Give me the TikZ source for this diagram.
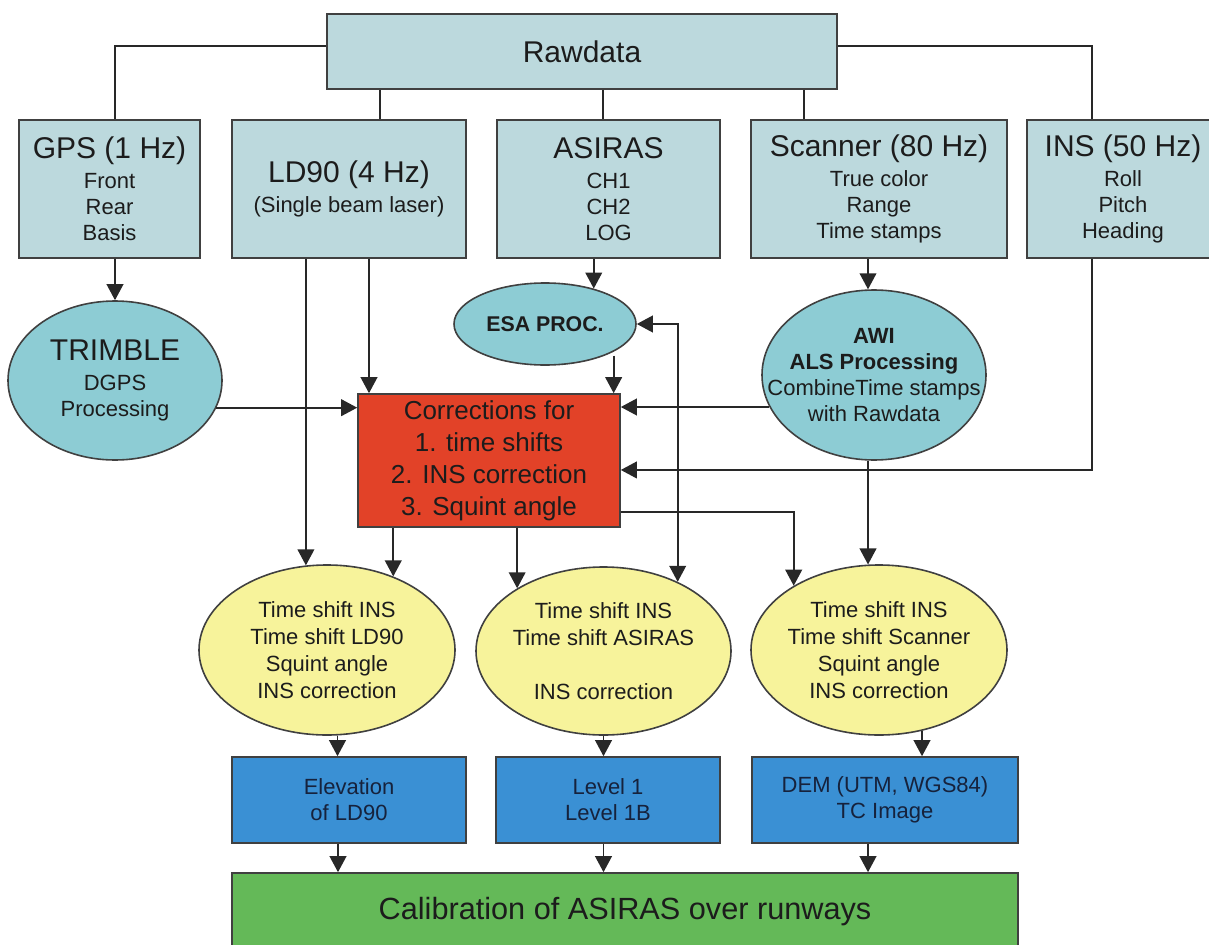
\documentclass[tikz,border=0pt]{standalone}
\usepackage{fontspec}
\setmainfont{Liberation Sans}
\usepackage{tikz}
\usetikzlibrary{shapes}
\usetikzlibrary{arrows.meta}
\definecolor{rawfill}{RGB}{188,217,221}
\definecolor{procfill}{RGB}{141,204,212}
\definecolor{corrfill}{RGB}{226,66,40}
\definecolor{tsfill}{RGB}{247,243,155}
\definecolor{outfill}{RGB}{58,144,212}
\definecolor{calfill}{RGB}{100,185,88}
\definecolor{edgegrey}{RGB}{64,64,64}
\definecolor{linegrey}{RGB}{40,40,40}
\definecolor{txt}{RGB}{28,28,28}
\definecolor{outtxt}{RGB}{22,34,60}
\newcommand{\headfont}{\fontsize{22.5pt}{27pt}\selectfont}
\newcommand{\itemfont}{\fontsize{16.5pt}{19.5pt}\selectfont}

\tikzset{
  srcbox/.style={rectangle, draw=edgegrey, fill=rawfill, line width=1.4pt, align=center, text=txt, font=\itemfont},
  procell/.style={ellipse, draw=edgegrey, fill=procfill, line width=1.2pt, inner sep=-25pt, align=center, text=txt, font=\itemfont},
  corrbox/.style={rectangle, draw=edgegrey, fill=corrfill, line width=1.2pt, align=center, text=txt, font=\fontsize{19.5pt}{24pt}\selectfont},
  tsell/.style={ellipse, draw=edgegrey, fill=tsfill, line width=1.2pt, inner sep=-25pt, align=center, text=txt, font=\fontsize{16.5pt}{20.25pt}\selectfont},
  outbox/.style={rectangle, draw=edgegrey, fill=outfill, line width=1.2pt, align=center, text=outtxt, font=\itemfont},
  calbox/.style={rectangle, draw=edgegrey, fill=calfill, line width=1.2pt, text=txt, font=\fontsize{23pt}{28pt}\selectfont}
}

\begin{document}
\begin{tikzpicture}[->, >={Triangle[length=12pt,width=12.5pt]}, x=0.75pt, y=-0.75pt, linegrey, line width=1.3pt]
        \useasboundingbox (0,0) rectangle (1209,945);

        \node[srcbox, minimum width=382.5pt, minimum height=56.25pt, font=\headfont] (raw) at (582,51.5) {Rawdata};
        \node[srcbox, minimum width=135.75pt, minimum height=103.5pt] (src_gps) at (109.5,189) {{\headfont GPS (1 Hz)}\\[3pt] Front\\ Rear\\ Basis};
        \node[srcbox, minimum width=175.5pt, minimum height=103.5pt] (src_ld) at (349,189) {{\headfont LD90 (4 Hz)}\\[3pt] (Single beam laser)};
        \node[srcbox, minimum width=167.25pt, minimum height=103.5pt] (src_asi) at (608.5,189) {{\headfont ASIRAS}\\[3pt] CH1\\ CH2\\ LOG};
        \node[srcbox, minimum width=192pt, minimum height=103.5pt] (src_scan) at (879,189) {{\headfont Scanner (80 Hz)}\\[3pt] True color\\ Range\\ Time stamps};
        \node[srcbox, minimum width=144pt, minimum height=103.5pt] (src_ins) at (1123,189) {{\headfont INS (50 Hz)}\\[3pt] Roll\\ Pitch\\ Heading};

        \node[procell, minimum width=160.5pt, minimum height=119.25pt] (proc_trim) at (115,380.5) {{\headfont TRIMBLE}\\[3pt] DGPS\\ Processing};
        \node[procell, minimum width=136.5pt, minimum height=61.5pt, font=\fontsize{16pt}{19pt}\selectfont\bfseries] (proc_esa) at (545,324) {ESA PROC.};
        \node[procell, minimum width=168pt, minimum height=127.5pt] (proc_awi) at (874,375) {{\bfseries AWI}\\ {\bfseries ALS Processing}\\ CombineTime stamps\\ with Rawdata};

        \node[corrbox, minimum width=196.5pt, minimum height=99.75pt] (corr) at (489,460.5) {Corrections for\\ 1. time shifts\\ 2. INS correction\\ 3. Squint angle};

        \node[tsell, minimum width=192pt, minimum height=127.5pt] (ts_ld) at (327,650) {Time shift INS\\ Time shift LD90\\ Squint angle\\ INS correction};
        \node[tsell, minimum width=191.25pt, minimum height=126pt] (ts_asi) at (603.5,651) {Time shift INS\\ Time shift ASIRAS\\[20.25pt] INS correction};
        \node[tsell, minimum width=192pt, minimum height=127.5pt] (ts_scan) at (879,650) {Time shift INS\\ Time shift Scanner\\ Squint angle\\ INS correction};

        \node[outbox, minimum width=175.5pt, minimum height=64.5pt] (out_ld) at (349,800) {Elevation\\ of LD90};
        \node[outbox, minimum width=168pt, minimum height=64.5pt] (out_asi) at (608,800) {Level 1\\ Level 1B};
        \node[outbox, minimum width=199.5pt, minimum height=64.5pt] (out_scan) at (885,800) {DEM (UTM, WGS84)\\ TC Image};

        \node[calbox, minimum width=589.5pt, minimum height=58.5pt] (cal) at (625,912) {Calibration of ASIRAS over runways};

        \draw[-] ([yshift=4.1pt]raw.west) -| ([xshift=4.1pt]src_gps.north);
        \draw[-] ([yshift=4.1pt]raw.east) -| ([xshift=-23.25pt]src_ins.north);
        \path ([xshift=23.25pt]src_ld.north |- raw.south) edge[-] ([xshift=23.25pt]src_ld.north)
        ([xshift=-4.1pt]src_asi.north |- raw.south) edge[-] ([xshift=-4.1pt]src_asi.north)
        ([xshift=-56.25pt]src_scan.north |- raw.south) edge[-] ([xshift=-56.25pt]src_scan.north);

        \path ([xshift=4.1pt]src_gps.south) edge (proc_trim.north)
        (ts_ld.104 |- src_ld.south) edge (ts_ld.104)
        ([xshift=15pt]src_ld.south) edge ([xshift=15pt]src_ld.south |- corr.north)
        (proc_esa.36 |- src_asi.south) edge (proc_esa.36)
        ([yshift=-3pt]proc_esa.338) edge (proc_esa.338 |- corr.north)
        (proc_awi.94 |- src_scan.south) edge (proc_awi.94)
        (proc_trim.345) edge (proc_trim.345 -| corr.west)
        (proc_awi.197) edge (proc_awi.197 -| corr.east)
        (ts_ld.48 |- corr.south) edge (ts_ld.48)
        (ts_asi.144 |- corr.south) edge (ts_asi.144)
        (proc_awi.266) edge (proc_awi.266 |- ts_scan.97);

        \draw ([xshift=-23.25pt]src_ins.south) |- ([yshift=-7.1pt]corr.east);
        \draw ([yshift=-38.6pt]corr.east) -| (ts_scan.143);
        \draw[<->] (proc_esa.east) -| (ts_asi.43);

        \path (ts_ld.277) edge (ts_ld.277 |- out_ld.north)
        (ts_asi.south) edge (ts_asi.south |- out_asi.north)
        (ts_scan.298) edge (ts_scan.298 |- out_scan.north)
        ([xshift=-8.25pt]out_ld.south) edge ([xshift=-8.25pt]out_ld.south |- cal.north)
        (ts_asi.south |- out_asi.south) edge (ts_asi.south |- cal.north)
        ([xshift=-12.75pt]out_scan.south) edge ([xshift=-12.75pt]out_scan.south |- cal.north);
      \end{tikzpicture}
\end{document}
